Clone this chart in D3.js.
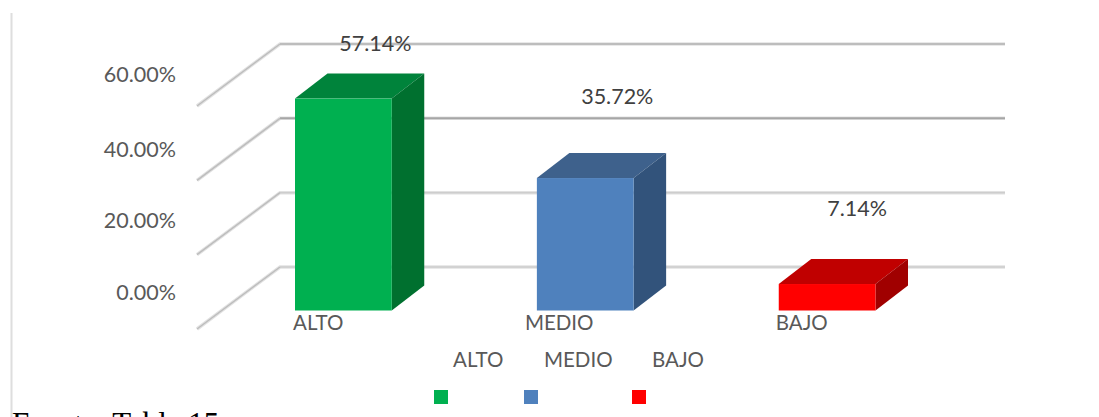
<!DOCTYPE html>
<html>
<head>
<meta charset="utf-8">
<script src="https://cdn.jsdelivr.net/npm/d3@7"></script>
<style>
  html, body { margin: 0; padding: 0; background: #fff; overflow: hidden; }
  svg { display: block; }
  text { font-family: Lato, sans-serif; font-size: 20.5px; fill: #595959; }
  .pct text, text.pct { font-size: 21.5px; }
</style>
</head>
<body>
<div id="chart"></div>
<script>
// chart values
const CATEGORIES = ["ALTO", "MEDIO", "BAJO"];
const VALUES = [57.14, 35.72, 7.14];
const VALUE_LABELS = ["57.14%", "35.72%", "7.14%"];
const TICKS = [0, 20, 40, 60];
const FRONT_COLORS = ["#00B050", "#4F81BD", "#FF0000"];
const TOP_COLORS = ["#00833B", "#3E618C", "#C00000"];
const SIDE_COLORS = ["#00702F", "#32537B", "#A00000"];

const WIDTH = 1099;
const HEIGHT = 417;

// the labels in the original were dragged around by hand, so these are layout offsets
const LABEL_DX = [32, 32, 30];
const LABEL_LIFT = [30, 57, 51];
const CATEGORY_DX = [-2, -12, -3];
const LEGEND_SWATCH_X = [434, 524, 632];
const LEGEND_TEXT_X = [453, 544, 652];

// the 3d box depth of the bars and the depth of the floor
const BAR_DX = 32.5;
const BAR_DY = -25;

const svg = d3.select("#chart").append("svg").attr("width", WIDTH).attr("height", HEIGHT);

// three scales, all of them the same axis seen at a different depth
const yFront = d3.scaleLinear().domain([0, 60]).range([310.5, 88]);
const yBack = d3.scaleLinear().domain([0, 60]).range([267, 44]);
const yNear = d3.scaleLinear().domain([0, 60]).range([329, 106]);
// tick labels are not evenly spaced in the reference
const yLabels = d3.scaleLinear().domain(TICKS).range([292.5, 220.5, 149.5, 75]);

const x = d3.scaleBand().domain(CATEGORIES).range([295, 875.5]).paddingInner(0.6).paddingOuter(0);

// frame line on the left
svg.append("line")
  .attr("x1", 11.5).attr("x2", 11.5)
  .attr("y1", 13).attr("y2", HEIGHT)
  .attr("stroke", "#dedede")
  .attr("stroke-width", 2);

// gridlines: soft halo first, then the darker core, back wall and side wall
const gridColor = d => (d === 40 ? "#a6a6a6" : d === 60 ? "#b0b0b0" : "#cdcdcd");
const gridPoints = d => `197,${yNear(d)} 280,${yBack(d)} 1005,${yBack(d)}`;
const grid = svg.append("g").attr("class", "grid").attr("fill", "none");
grid.selectAll("polyline.halo")
  .data(TICKS)
  .join("polyline")
  .attr("class", "halo")
  .attr("points", gridPoints)
  .attr("stroke", "#e2e2e2")
  .attr("stroke-width", 3.5);
grid.selectAll("path.core")
  .data(TICKS)
  .join("path")
  .attr("class", "core")
  .attr("d", d => `M280,${yBack(d)}H1005`)
  .attr("stroke", gridColor)
  .attr("stroke-width", d => (d === 40 ? 2 : 1.5));
grid.selectAll("path.side")
  .data(TICKS)
  .join("path")
  .attr("class", "side")
  .attr("d", d => `M197,${yNear(d)}L280,${yBack(d)}`)
  .attr("stroke", "#bdbdbd")
  .attr("stroke-width", 1.5);

// y axis labels
svg.append("g")
  .attr("class", "y-axis pct")
  .attr("transform", "translate(176, 0)")
  .call(d3.axisLeft(yLabels).tickValues(TICKS).tickSize(0).tickPadding(0).tickFormat(d => d3.format(".2f")(d) + "%"))
  .call(g => g.select(".domain").remove())
  .call(g => g.selectAll("text").attr("fill", "#595959"));

// bars
const bars = svg.append("g").attr("class", "bars")
  .selectAll("g")
  .data(CATEGORIES)
  .join("g");

bars.append("polygon")
  .attr("points", (d, i) => {
    const l = x(d), r = l + x.bandwidth(), t = yFront(VALUES[i]);
    return `${l},${t} ${l + BAR_DX},${t + BAR_DY} ${r + BAR_DX},${t + BAR_DY} ${r},${t}`;
  })
  .attr("fill", (d, i) => TOP_COLORS[i]);

bars.append("polygon")
  .attr("points", (d, i) => {
    const r = x(d) + x.bandwidth(), t = yFront(VALUES[i]), b = yFront(0);
    return `${r},${t} ${r + BAR_DX},${t + BAR_DY} ${r + BAR_DX},${b + BAR_DY} ${r},${b}`;
  })
  .attr("fill", (d, i) => SIDE_COLORS[i]);

bars.append("rect")
  .attr("x", d => x(d))
  .attr("y", (d, i) => yFront(VALUES[i]))
  .attr("width", x.bandwidth())
  .attr("height", (d, i) => yFront(0) - yFront(VALUES[i]))
  .attr("fill", (d, i) => FRONT_COLORS[i]);

// value labels
svg.append("g").attr("class", "pct").selectAll("text")
  .data(VALUE_LABELS)
  .join("text")
  .attr("x", (d, i) => x(CATEGORIES[i]) + x.bandwidth() / 2 + LABEL_DX[i])
  .attr("y", (d, i) => yFront(VALUES[i]) + BAR_DY - LABEL_LIFT[i])
  .attr("dy", "0.35em")
  .attr("text-anchor", "middle")
  .style("fill", "#404040")
  .text(d => d);

// category labels under the bars
svg.append("g").selectAll("text")
  .data(CATEGORIES)
  .join("text")
  .attr("x", (d, i) => x(d) + CATEGORY_DX[i])
  .attr("y", 323)
  .attr("dy", "0.35em")
  .text(d => d);

// legend: the names and the swatches are not lined up in the original
svg.append("g").selectAll("text")
  .data(CATEGORIES)
  .join("text")
  .attr("x", (d, i) => LEGEND_TEXT_X[i])
  .attr("y", 360)
  .attr("dy", "0.35em")
  .text(d => d);

svg.append("g").selectAll("rect")
  .data(CATEGORIES)
  .join("rect")
  .attr("x", (d, i) => LEGEND_SWATCH_X[i])
  .attr("y", 390)
  .attr("width", 14)
  .attr("height", 14)
  .attr("fill", (d, i) => FRONT_COLORS[i]);

// caption, cut off by the bottom edge like in the reference
svg.append("text")
  .attr("x", 12)
  .attr("y", 434)
  .style("font-family", "'Liberation Serif', serif")
  .style("font-size", "31px")
  .style("fill", "#000")
  .text("Fuente: Tabla 15");
</script>
</body>
</html>
